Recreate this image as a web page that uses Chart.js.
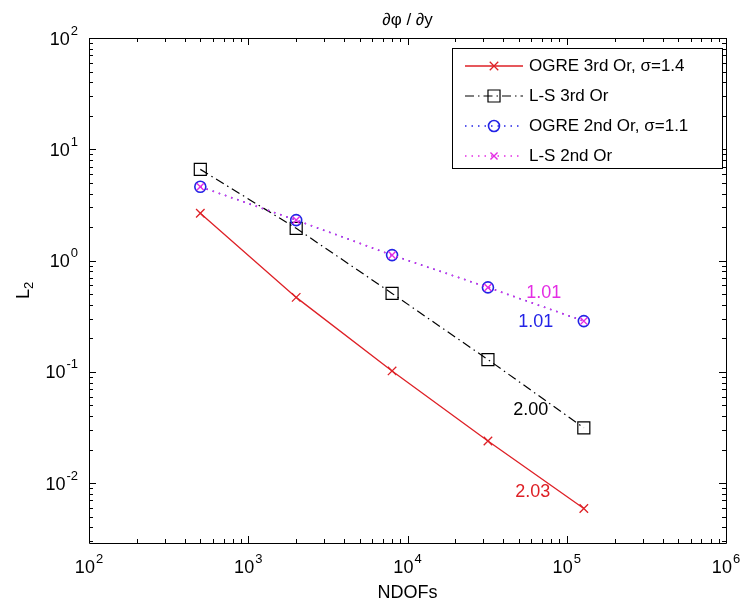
<!DOCTYPE html>
<html>
<head>
<meta charset="utf-8">
<script src="https://cdn.jsdelivr.net/npm/chart.js@4.4.1/dist/chart.umd.min.js"></script>
<style>
  html, body { margin: 0; padding: 0; background: #fff; }
</style>
</head>
<body>
<canvas id="chart" width="745" height="607"></canvas>
<script>
// data
const ndofs = [500, 2000, 8000, 32000, 128000];
const ogre3rd = [2.66, 0.467, 0.102, 0.0239, 0.00593];
const ls3rd = [6.6, 1.95, 0.507, 0.129, 0.0314];
const ogre2nd = [4.6, 2.31, 1.12, 0.574, 0.286];
const ls2nd = [4.6, 2.31, 1.12, 0.574, 0.286];

const seriesLabels = ['OGRE 3rd Or, σ=1.4', 'L-S 3rd Or', 'OGRE 2nd Or, σ=1.1', 'L-S 2nd Or'];

// slope labels next to the last segments
const rateText = ['2.03', '2.00', '1.01', '1.01'];
const rateX = [61100, 59400, 63800, 71600];
const rateY = [0.0083, 0.0453, 0.28, 0.51];

const xRange = [100, 1e6];
const yRange = [0.0029, 100];

const plotTitle = '∂φ / ∂y';
const xTitle = 'NDOFs';
const yTitle = ['L', '2'];

const RED = 'rgb(222,32,38)';
const BLUE = 'rgb(35,35,230)';
const MAGENTA = 'rgb(228,45,228)';
const BLACK = '#000';
const FONT = '"Liberation Sans", Arial, sans-serif';

const isDecade = (v) => Math.abs(Math.log10(v) - Math.round(Math.log10(v))) < 1e-9;

const logTicks = (min, max) => {
  const out = [];
  for (let e = Math.floor(Math.log10(min)); e <= Math.ceil(Math.log10(max)); e++) {
    for (let m = 1; m <= 9; m++) {
      const v = m * Math.pow(10, e);
      if (v >= min * 0.999 && v <= max * 1.001) out.push({value: v});
    }
  }
  return out;
};

const toPoints = (ys) => ys.map((y, i) => ({x: ndofs[i], y}));

const series = [
  {label: seriesLabels[0], data: toPoints(ogre3rd), color: RED, dash: [], style: 'crossRot', radius: 6, width: 1.3, order: 3},
  {label: seriesLabels[1], data: toPoints(ls3rd), color: BLACK, dash: [9, 4, 1.5, 4], style: 'rect', radius: 8.5, width: 1.2, order: 2},
  {label: seriesLabels[2], data: toPoints(ogre2nd), color: BLUE, dash: [1.5, 5], style: 'circle', radius: 5.5, width: 1.6, order: 1},
  {label: seriesLabels[3], data: toPoints(ls2nd), color: MAGENTA, dash: [1.5, 5], style: 'crossRot', radius: 5, width: 1.4, order: 0}
];
const rateColors = [RED, BLACK, BLUE, MAGENTA];

function drawMarker(ctx, style, x, y, r) {
  ctx.beginPath();
  if (style === 'rect') {
    const s = r * Math.SQRT1_2;
    ctx.rect(x - s, y - s, 2 * s, 2 * s);
  } else if (style === 'circle') {
    ctx.arc(x, y, r, 0, Math.PI * 2);
  } else {
    const s = r * Math.SQRT1_2;
    ctx.moveTo(x - s, y - s); ctx.lineTo(x + s, y + s);
    ctx.moveTo(x - s, y + s); ctx.lineTo(x + s, y - s);
  }
  ctx.stroke();
}

// "10" with a raised exponent, like the matlab tick labels
function powerLabel(ctx, v, x, y, align) {
  const exp = String(Math.round(Math.log10(v)));
  ctx.font = '18px ' + FONT;
  const w1 = ctx.measureText('10').width;
  ctx.font = '13px ' + FONT;
  const w2 = ctx.measureText(exp).width;
  const total = w1 + 1 + w2;
  const left = align === 'right' ? x - total : x - total / 2;
  ctx.textAlign = 'left';
  ctx.textBaseline = 'alphabetic';
  ctx.font = '18px ' + FONT;
  ctx.fillText('10', left, y);
  ctx.font = '13px ' + FONT;
  ctx.fillText(exp, left + w1 + 1, y - 10);
}

// box with inward ticks on all four sides, plus tick labels
const frame = {
  id: 'frame',
  beforeDatasetsDraw(chart) {
    const {ctx, chartArea: a, scales} = chart;
    ctx.save();
    ctx.strokeStyle = '#000';
    ctx.lineWidth = 1;
    ctx.beginPath();
    ctx.rect(Math.round(a.left) + 0.5, Math.round(a.top) + 0.5, Math.round(a.right - a.left), Math.round(a.bottom - a.top));
    ctx.stroke();
    ctx.beginPath();
    scales.x.ticks.forEach((t) => {
      const px = Math.round(scales.x.getPixelForValue(t.value)) + 0.5;
      const len = isDecade(t.value) ? 7 : 4;
      ctx.moveTo(px, a.bottom); ctx.lineTo(px, a.bottom - len);
      ctx.moveTo(px, a.top); ctx.lineTo(px, a.top + len);
    });
    scales.y.ticks.forEach((t) => {
      const py = Math.round(scales.y.getPixelForValue(t.value)) + 0.5;
      const len = isDecade(t.value) ? 7 : 4;
      ctx.moveTo(a.left, py); ctx.lineTo(a.left + len, py);
      ctx.moveTo(a.right, py); ctx.lineTo(a.right - len, py);
    });
    ctx.stroke();

    ctx.fillStyle = '#000';
    scales.x.ticks.filter((t) => isDecade(t.value)).forEach((t) => {
      powerLabel(ctx, t.value, scales.x.getPixelForValue(t.value), a.bottom + 30, 'center');
    });
    scales.y.ticks.filter((t) => isDecade(t.value)).forEach((t) => {
      powerLabel(ctx, t.value, a.left - 11, scales.y.getPixelForValue(t.value) + 6.5, 'right');
    });

    // y axis title, L with subscript 2, rotated
    ctx.translate(24, (a.top + a.bottom) / 2);
    ctx.rotate(-Math.PI / 2);
    ctx.textBaseline = 'middle';
    ctx.font = '18px ' + FONT;
    const wl = ctx.measureText(yTitle[0]).width;
    ctx.font = '13px ' + FONT;
    const ws = ctx.measureText(yTitle[1]).width;
    const x0 = -(wl + ws) / 2;
    ctx.textAlign = 'left';
    ctx.font = '18px ' + FONT;
    ctx.fillText(yTitle[0], x0, 0);
    ctx.font = '13px ' + FONT;
    ctx.fillText(yTitle[1], x0 + wl, 5);
    ctx.restore();
  }
};

// title, slope labels and the legend box
const extras = {
  id: 'extras',
  afterDatasetsDraw(chart) {
    const {ctx, chartArea: a, scales: {x, y}} = chart;
    ctx.save();
    ctx.font = '18px ' + FONT;
    ctx.textAlign = 'center';
    ctx.textBaseline = 'middle';
    rateText.forEach((t, i) => {
      ctx.fillStyle = rateColors[i];
      ctx.fillText(t, x.getPixelForValue(rateX[i]), y.getPixelForValue(rateY[i]));
    });
    ctx.font = '17px ' + FONT;
    ctx.fillStyle = '#000';
    ctx.fillText(plotTitle, (a.left + a.right) / 2, 20);

    // legend
    const box = {left: 452.5, top: 48.5, width: 270, height: 120};
    ctx.fillStyle = '#fff';
    ctx.fillRect(box.left, box.top, box.width, box.height);
    ctx.strokeStyle = '#000';
    ctx.lineWidth = 1;
    ctx.strokeRect(box.left, box.top, box.width, box.height);
    ctx.textAlign = 'left';
    series.forEach((s, i) => {
      const ry = 66 + i * 30;
      ctx.strokeStyle = s.color;
      ctx.lineWidth = s.width;
      ctx.setLineDash(s.dash);
      ctx.beginPath();
      ctx.moveTo(465, ry); ctx.lineTo(523, ry);
      ctx.stroke();
      ctx.setLineDash([]);
      drawMarker(ctx, s.style, 494, ry, s.radius);
      ctx.fillStyle = '#000';
      ctx.fillText(s.label, 529, ry);
    });
    ctx.restore();
  }
};

Chart.defaults.font.family = FONT;
Chart.defaults.font.size = 17;
Chart.defaults.color = '#000';

new Chart(document.getElementById('chart'), {
  type: 'line',
  data: {
    datasets: series.map((s) => ({
      label: s.label,
      data: s.data,
      borderColor: s.color,
      borderWidth: s.width,
      borderDash: s.dash,
      pointStyle: s.style,
      pointRadius: s.radius,
      pointBorderColor: s.color,
      pointBorderWidth: s.width,
      pointBackgroundColor: 'rgba(0,0,0,0)',
      fill: false,
      tension: 0,
      order: s.order
    }))
  },
  options: {
    responsive: false,
    animation: false,
    devicePixelRatio: 1,
    layout: {padding: {top: 38, right: 19, left: 0, bottom: 0}},
    plugins: {legend: {display: false}, title: {display: false}, tooltip: {enabled: false}},
    scales: {
      x: {
        type: 'logarithmic',
        min: xRange[0],
        max: xRange[1],
        afterBuildTicks: (s) => { s.ticks = logTicks(xRange[0], xRange[1]); },
        afterFit: (s) => { s.height = 64; },
        grid: {display: false, drawTicks: false},
        border: {display: false},
        ticks: {display: false},
        title: {display: true, text: xTitle, font: {size: 18}, padding: {top: 0, bottom: 3}}
      },
      y: {
        type: 'logarithmic',
        min: yRange[0],
        max: yRange[1],
        afterBuildTicks: (s) => { s.ticks = logTicks(yRange[0], yRange[1]); },
        afterFit: (s) => { s.width = 89; },
        grid: {display: false, drawTicks: false},
        border: {display: false},
        ticks: {display: false},
        title: {display: false}
      }
    }
  },
  plugins: [frame, extras]
});
</script>
</body>
</html>
